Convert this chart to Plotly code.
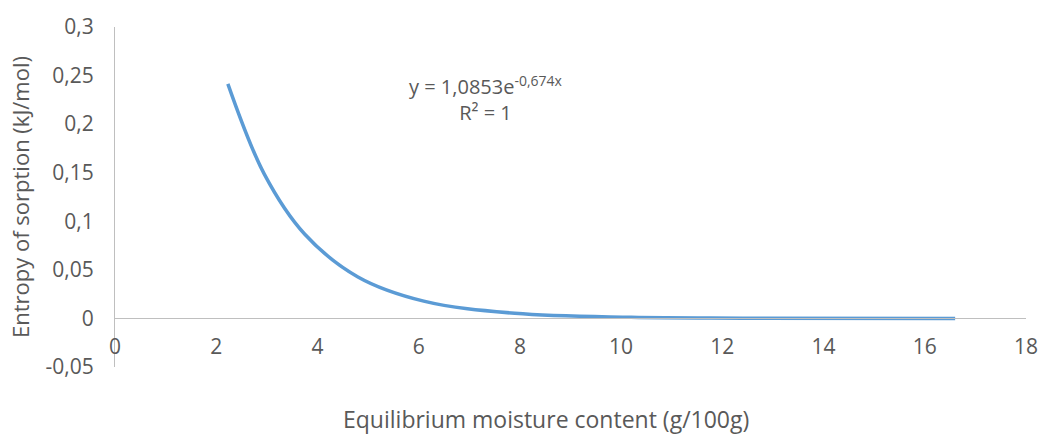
import plotly.graph_objects as go

# Data
moisture = [2.23, 2.95, 3.75, 4.8, 6.1, 7.9, 10.2, 12.4, 16.6]
entropy = [0.2415, 0.1486, 0.0867, 0.0427, 0.0178, 0.0053, 0.0011, 0.0003, 0.0]

y_tickvals = [-0.05, 0, 0.05, 0.1, 0.15, 0.2, 0.25, 0.3]
y_ticktext = ["-0,05", "0", "0,05", "0,1", "0,15", "0,2", "0,25", "0,3"]
x_tickvals = [0, 2, 4, 6, 8, 10, 12, 14, 16, 18]
x_ticktext = ["0", "2", "4", "6", "8", "10", "12", "14", "16", "18"]

FONT = "Open Sans"
GREY = "#595959"
AXIS = "#bfbfbf"
YMIN, YMAX = -0.05, 0.3

fig = go.Figure()
fig.add_trace(go.Scatter(
    x=moisture, y=entropy, mode="lines",
    line=dict(color="#5b9bd5", width=3.5, shape="spline", smoothing=1.0),
    showlegend=False, hoverinfo="x+y",
))

fig.update_layout(
    width=1053, height=439,
    margin=dict(l=115, r=27, t=18, b=72),
    paper_bgcolor="white", plot_bgcolor="white",
    font=dict(family=FONT, size=21, color=GREY),
    xaxis=dict(
        range=[0, 18], tickvals=x_tickvals, ticktext=x_ticktext,
        showgrid=False, zeroline=False, showline=True, linecolor=AXIS, linewidth=1,
        anchor="free", position=(0 - YMIN) / (YMAX - YMIN),
        ticks="", ticklabelstandoff=9,
        tickfont=dict(family=FONT, size=21, color=GREY),
    ),
    yaxis=dict(
        range=[YMIN, YMAX], tickvals=y_tickvals, ticktext=y_ticktext,
        showgrid=False, zeroline=False, showline=True, linecolor=AXIS, linewidth=1,
        ticks="", ticklabelstandoff=16,
        tickfont=dict(family=FONT, size=21, color=GREY),
    ),
    annotations=[
        dict(text="y = 1,0853e<sup>-0,674x</sup><br>R² = 1", x=7.34, y=0.226,
             xref="x", yref="y", showarrow=False, align="center",
             font=dict(family=FONT, size=20, color=GREY)),
        dict(text="Equilibrium moisture content (g/100g)", x=(546 - 115) / 911, y=-(420 - 367) / 349,
             xref="paper", yref="paper", showarrow=False, xanchor="center", yanchor="middle",
             font=dict(family=FONT, size=23, color=GREY)),
        dict(text="Entropy of sorption (kJ/mol)", x=(20 - 115) / 911, y=0.5,
             xref="paper", yref="paper", showarrow=False, xanchor="center", yanchor="middle",
             textangle=-90, font=dict(family=FONT, size=22, color=GREY)),
    ],
)

fig.write_html("out.html")
